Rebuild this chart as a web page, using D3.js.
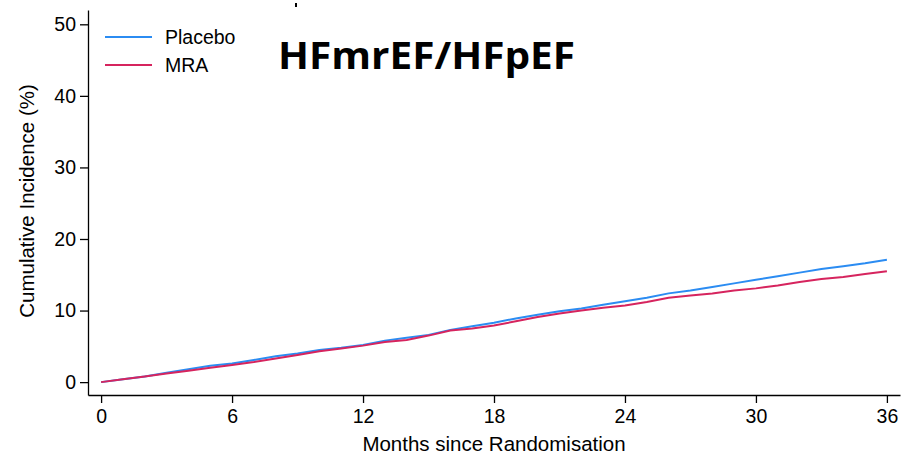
<!DOCTYPE html>
<html>
<head>
<meta charset="utf-8">
<script src="https://cdn.jsdelivr.net/npm/d3@7"></script>
<style>
  body { margin: 0; background: #fff; }
  svg { display: block; font-family: "Liberation Sans", Arial, sans-serif; }
</style>
</head>
<body>
<svg width="903" height="456"></svg>
<script>
// data
const months = d3.range(0, 37);
const placebo = [0, 0.4, 0.8, 1.3, 1.8, 2.3, 2.6, 3.1, 3.6, 4.0, 4.5, 4.8, 5.2, 5.8, 6.2, 6.6, 7.3, 7.8, 8.3,
  8.9, 9.4, 9.9, 10.3, 10.8, 11.3, 11.8, 12.4, 12.8, 13.3, 13.8, 14.3, 14.8, 15.3, 15.8, 16.2, 16.6, 17.1];
const mra = [0, 0.4, 0.8, 1.2, 1.6, 2.0, 2.4, 2.8, 3.3, 3.8, 4.3, 4.7, 5.1, 5.6, 5.9, 6.5, 7.2, 7.5, 7.9,
  8.5, 9.1, 9.6, 10.0, 10.4, 10.7, 11.2, 11.8, 12.1, 12.4, 12.8, 13.1, 13.5, 14.0, 14.4, 14.7, 15.1, 15.5];
const xTicks = [0, 6, 12, 18, 24, 30, 36];
const yTicks = [0, 10, 20, 30, 40, 50];
const seriesNames = ["Placebo", "MRA"];
const seriesColors = ["#2b8cf2", "#d6245e"];

const svg = d3.select("svg");
const fontSize = "19.5px";
const titleSize = "20.5px";

const x = d3.scaleLinear().domain([-0.6, 36.6]).range([88, 900]);
const y = d3.scaleLinear().domain([-1.8, 52]).range([395, 10]);

// Axes
const xAxis = svg.append("g")
    .attr("transform", `translate(0,${y(-1.8)})`)
    .call(d3.axisBottom(x).tickValues(xTicks).tickSize(8).tickSizeOuter(0).tickPadding(6));
xAxis.selectAll("text").attr("font-size", fontSize).attr("fill", "#000")
    .attr("font-family", "Liberation Sans, Arial, sans-serif");
xAxis.selectAll("path, line").attr("stroke", "#000").attr("stroke-width", 1.3);

const yAxis = svg.append("g")
    .attr("transform", `translate(${x(-0.6)},0)`)
    .call(d3.axisLeft(y).tickValues(yTicks).tickSize(8).tickSizeOuter(0).tickPadding(4));
yAxis.selectAll("text").attr("font-size", fontSize).attr("fill", "#000")
    .attr("font-family", "Liberation Sans, Arial, sans-serif");
yAxis.selectAll("path, line").attr("stroke", "#000").attr("stroke-width", 1.3);

// Axis titles
svg.append("text")
    .attr("x", 494).attr("y", 451)
    .attr("text-anchor", "middle")
    .attr("font-size", titleSize)
    .text("Months since Randomisation");

svg.append("text")
    .attr("transform", "translate(34,201) rotate(-90)")
    .attr("text-anchor", "middle")
    .attr("font-size", titleSize)
    .text("Cumulative Incidence (%)");

// Lines
const line = d3.line()
    .x((d, i) => x(months[i]))
    .y(d => y(d));

[placebo, mra].forEach((vals, i) => {
  svg.append("path")
      .datum(vals)
      .attr("fill", "none")
      .attr("stroke", seriesColors[i])
      .attr("stroke-width", 2)
      .attr("d", line);
});

// Legend
seriesNames.forEach((name, i) => {
  const ly = 37 + i * 28;
  svg.append("line")
      .attr("x1", 105).attr("x2", 152)
      .attr("y1", ly).attr("y2", ly)
      .attr("stroke", seriesColors[i]).attr("stroke-width", 2);
  svg.append("text")
      .attr("x", 165).attr("y", ly + 7)
      .attr("font-size", fontSize)
      .text(name);
});

// Panel title
svg.append("text")
    .attr("x", 278).attr("y", 69)
    .attr("font-family", "Open Sans, Noto Sans, sans-serif")
    .attr("font-weight", "bold")
    .attr("font-size", "37px")
    .attr("textLength", 297)
    .attr("lengthAdjust", "spacingAndGlyphs")
    .text("HFmrEF/HFpEF");

// small stray mark at the top
svg.append("rect")
    .attr("x", 295).attr("y", 3).attr("width", 2).attr("height", 4)
    .attr("fill", "#000");
</script>
</body>
</html>
